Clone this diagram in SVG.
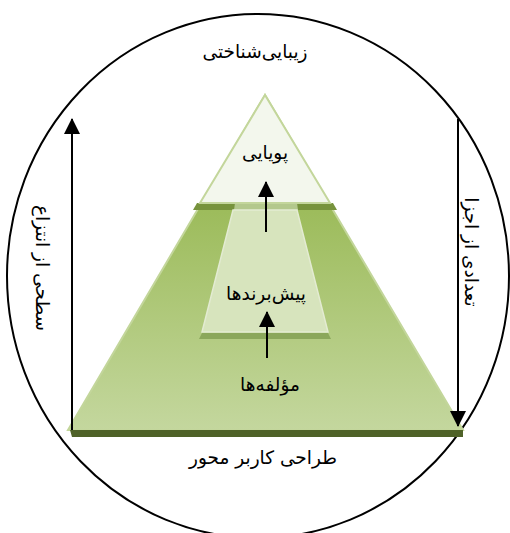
<svg xmlns="http://www.w3.org/2000/svg" width="510" height="533" viewBox="0 0 510 533">
<style>
.t{font-family:"DejaVu Sans","Noto Sans",sans-serif;font-size:18.5px;fill:#000;text-anchor:middle;dominant-baseline:central}
.ln{stroke:#000;stroke-width:2;fill:none}
</style>
<defs>
<linearGradient id="g" x1="0" y1="0" x2="0" y2="1" gradientUnits="objectBoundingBox">
<stop offset="0" stop-color="#96b752"/>
<stop offset="0.35" stop-color="#9dbc5c"/>
<stop offset="1" stop-color="#c4d79e"/>
</linearGradient>
<marker id="ah" markerWidth="8" markerHeight="8" refX="7.5" refY="4" orient="auto" markerUnits="strokeWidth">
<path d="M0,0 L8,4 L0,8 Z" fill="#000"/>
</marker>
</defs>
<rect width="510" height="533" fill="#fff"/>
<g id="frame">
<ellipse cx="258" cy="276" rx="251" ry="262" fill="none" stroke="#000" stroke-width="2"/>
</g>
<g id="base-level">
<polygon points="265,95 68,430 463,430" fill="url(#g)" stroke="#c3d69b" stroke-width="2"/>
<polygon points="70,430 463,430 463,437 72,437" fill="#4f6228"/>
<text class="t" x="270" y="384">مؤلفه‌ها</text>
</g>
<g id="middle-level">
<polygon points="197,203 333,203 337,210 193,210" fill="#77933c"/>
<polygon points="235,203 297,203 298,210 234,210" fill="#b3c88c"/>
<polygon points="233,210 297,210 328,332 202,332" fill="#d7e4bd" stroke="#e3ebd2" stroke-width="1.5"/>
<polygon points="202,333 328,333 331,339 199,339" fill="#8ba75b"/>
<text class="t" x="266" y="293">پیش‌برندها</text>
</g>
<g id="top-level">
<polygon points="265,95 200,203 330,203" fill="#f3f7ed" stroke="#c3d69b" stroke-width="2"/>
<text class="t" x="265" y="152">پویایی</text>
</g>
<g id="labels">
<text class="t" x="255" y="51">زیبایی‌شناختی</text>
<text class="t" x="263" y="457">طراحی کاربر محور</text>
<text class="t" transform="translate(42,268) rotate(90)">سطحی از انتزاع</text>
<text class="t" transform="translate(471,252) rotate(90)">تعدادی از اجزا</text>
</g>
<g id="connectors">
<line class="ln" x1="266" y1="232" x2="266" y2="182" marker-end="url(#ah)"/>
<line class="ln" x1="267" y1="358" x2="267" y2="312" marker-end="url(#ah)"/>
<line class="ln" x1="72" y1="430" x2="72" y2="119" marker-end="url(#ah)"/>
<line class="ln" x1="458" y1="119" x2="458" y2="426" marker-end="url(#ah)"/>
</g>
</svg>
